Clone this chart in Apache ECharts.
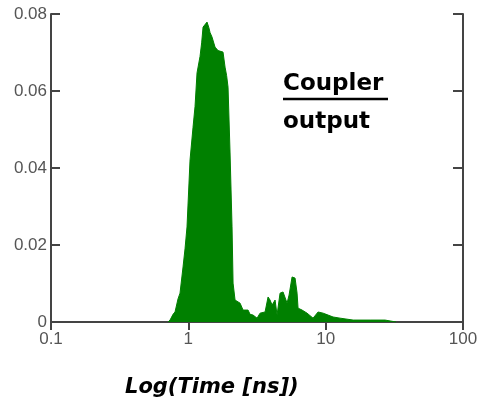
<!DOCTYPE html>
<html>
<head>
<meta charset="utf-8">
<script src="https://cdn.jsdelivr.net/npm/echarts@6/dist/echarts.min.js"></script>
<style>html,body{margin:0;padding:0;background:#fff;}#c{width:485px;height:404px;}</style>
</head>
<body>
<div id="c"></div>
<script>
// time in ns (log axis)
var times = [0.711,0.736,0.774,0.800,0.841,0.870,0.915,0.946,0.978,1.029,1.082,1.119,1.157,1.217,1.250,1.280,1.323,1.368,1.410,1.439,1.488,1.565,1.646,1.702,1.789,1.851,1.900,1.946,2.013,2.081,2.117,2.189,2.263,2.380,2.503,2.588,2.722,2.815,2.960,3.166,3.329,3.620,3.807,3.936,4.071,4.281,4.426,4.655,4.895,5.236,5.414,5.694,5.987,6.191,6.295,6.732,7.320,8.095,8.806,9.575,10.41,11.32,12.73,15.84,21.06,27.08,32.56,33.0];
// probability density
var values = [0,0.0005,0.0020,0.0026,0.0060,0.0075,0.0143,0.0190,0.0247,0.0421,0.0506,0.0560,0.0647,0.0690,0.0725,0.0766,0.0770,0.0779,0.0765,0.0752,0.0740,0.0714,0.0705,0.0701,0.0701,0.0662,0.0640,0.0610,0.0439,0.0247,0.0101,0.0057,0.0052,0.0049,0.0031,0.0035,0.0031,0.0020,0.0018,0.0010,0.0023,0.0026,0.0065,0.0057,0.0044,0.0057,0.0018,0.0075,0.0078,0.0049,0.0070,0.0117,0.0114,0.0075,0.0036,0.0031,0.0023,0.0010,0.0026,0.0023,0.0018,0.0013,0.0010,0.0005,0.0005,0.0005,0];
var xTicks = [0.1, 1, 10, 100];
var yTicks = [0, 0.02, 0.04, 0.06, 0.08];

var data = times.map(function(t, i){ return [t, values[i]]; });
var chart = echarts.init(document.getElementById('c'));
var axisCol = '#444';
var labelStyle = {color:'#555', fontFamily:'Liberation Sans, Arial', fontSize:17};
chart.setOption({
  animation:false,
  grid:{left:51, top:14, right:22, bottom:82},
  xAxis:[{
    type:'log', min:xTicks[0], max:xTicks[xTicks.length-1], logBase:10,
    axisLine:{lineStyle:{color:axisCol, width:2}},
    axisTick:{inside:true, length:8, lineStyle:{color:axisCol, width:2}},
    minorTick:{show:false},
    splitLine:{show:false},
    axisLabel:Object.assign({margin:9, formatter:function(v){return String(v);}}, labelStyle)
  },{
    type:'log', position:'top', min:xTicks[0], max:xTicks[xTicks.length-1], logBase:10,
    axisLine:{lineStyle:{color:axisCol, width:2}},
    axisTick:{inside:true, length:8, lineStyle:{color:axisCol, width:2}},
    splitLine:{show:false}, axisLabel:{show:false}
  }],
  yAxis:[{
    type:'value', min:yTicks[0], max:yTicks[yTicks.length-1], interval:0.02,
    axisLine:{show:true, lineStyle:{color:axisCol, width:2}},
    axisTick:{show:true, inside:true, length:9, lineStyle:{color:axisCol, width:2}},
    splitLine:{show:false},
    axisLabel:Object.assign({margin:4, formatter:function(v){return String(+v.toFixed(2));}}, labelStyle)
  },{
    type:'value', position:'right', min:yTicks[0], max:yTicks[yTicks.length-1], interval:0.02,
    axisLine:{show:true, lineStyle:{color:axisCol, width:2}},
    axisTick:{show:true, inside:true, length:10, lineStyle:{color:axisCol, width:2}},
    splitLine:{show:false}, axisLabel:{show:false}
  }],
  series:[{
    type:'line', data:data, xAxisIndex:0, yAxisIndex:0,
    symbol:'none', smooth:false,
    lineStyle:{color:'#008000', width:1},
    areaStyle:{color:'#008000', opacity:1},
    z:1
  }],
  graphic:[
    {type:'text', left:283, top:73, style:{text:'Coupler', font:'bold 23px "DejaVu Sans"', fill:'#000'}},
    {type:'line', shape:{x1:283, y1:99, x2:388, y2:99}, style:{stroke:'#000', lineWidth:2.5}},
    {type:'text', left:283, top:111, style:{text:'output', font:'bold 23px "DejaVu Sans"', fill:'#000'}},
    {type:'text', left:125, top:377, style:{text:'Log(Time [ns])', font:'italic bold 21px "DejaVu Sans"', fill:'#000'}}
  ]
});
</script>
</body>
</html>
